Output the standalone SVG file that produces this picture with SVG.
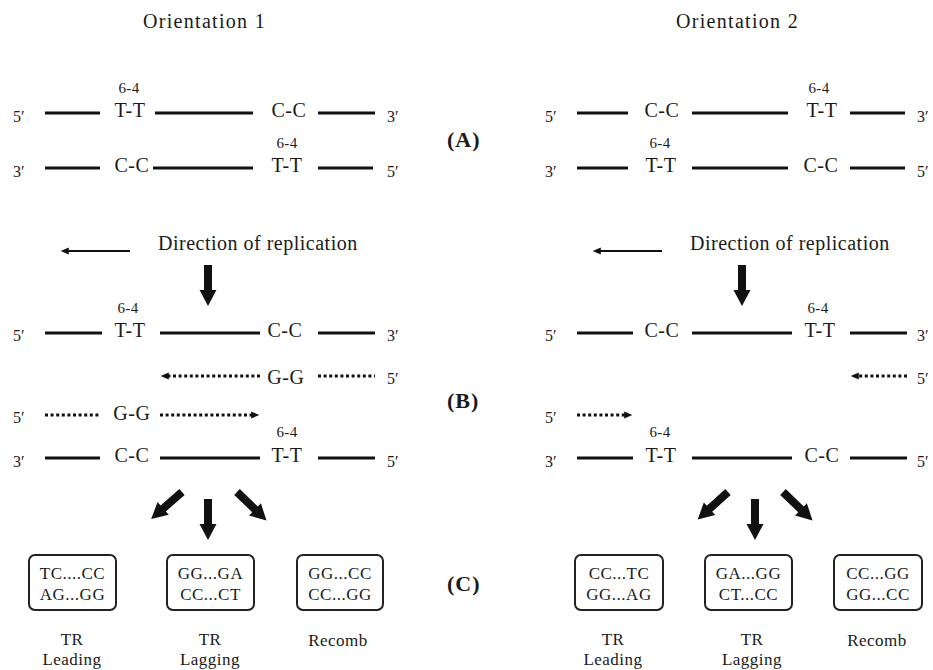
<svg xmlns="http://www.w3.org/2000/svg" width="933" height="670" viewBox="0 0 933 670">
<style>
.t{font-family:"Liberation Serif","Times New Roman",serif;fill:#1a1a1a}
.b{font-size:20px;letter-spacing:0.6px;text-anchor:middle}
.l{font-size:15px;letter-spacing:0.4px;text-anchor:middle}
.p{font-size:16px}
.ti{font-size:20px;letter-spacing:1.3px}
.dr{font-size:20px;letter-spacing:0.5px}
.pn{font-size:22px;font-weight:bold;letter-spacing:1px}
.bt{font-size:17px;letter-spacing:0.5px;text-anchor:middle}
.c{font-size:17px;letter-spacing:0.5px;text-anchor:middle}
.s{stroke:#111;stroke-width:3;fill:none}
.d{stroke:#111;stroke-width:3;stroke-dasharray:3 2.6;fill:none}
.th{stroke:#111;stroke-width:2;fill:none}
.bx{fill:#fff;stroke:#222;stroke-width:2}
.ta{fill:#111}
</style>
<defs>
<marker id="ah" viewBox="0 0 10 10" refX="2" refY="5" markerWidth="10" markerHeight="9" markerUnits="userSpaceOnUse" orient="auto">
<path d="M0,1 L9,5 L0,9 Z" fill="#111"/>
</marker>
<path id="ta" d="M-4,0 H4 V25 H8.5 L0,41 L-8.5,25 H-4 Z"/>
</defs>
<rect width="933" height="670" fill="#fff"/>

<g id="titles" class="t">
<text class="ti" x="143" y="28">Orientation 1</text>
<text class="ti" x="676" y="28">Orientation 2</text>
</g>

<g id="panel-labels" class="t">
<text class="pn" x="447" y="147">(A)</text>
<text class="pn" x="447" y="408">(B)</text>
<text class="pn" x="447" y="591">(C)</text>
</g>

<!-- Orientation 1, panel A -->
<g id="o1-a-top">
<path class="s" d="M45,113H100 M155,113H253 M318,113H375"/>
<g class="t"><text class="p" x="13" y="122">5′</text>
<text class="l" x="129" y="93">6-4</text>
<text class="b" x="130" y="117">T-T</text>
<text class="b" x="289" y="117">C-C</text>
<text class="p" x="387" y="122">3′</text></g>
</g>
<g id="o1-a-bottom">
<path class="s" d="M45,168H100 M153,168H253 M318,168H373"/>
<g class="t"><text class="p" x="13" y="177">3′</text>
<text class="b" x="132" y="172">C-C</text>
<text class="l" x="287" y="148">6-4</text>
<text class="b" x="287" y="172">T-T</text>
<text class="p" x="387" y="177">5′</text></g>
</g>

<!-- Orientation 2, panel A -->
<g id="o2-a-top">
<path class="s" d="M577,113H628 M692,113H788 M850,113H905"/>
<g class="t"><text class="p" x="545" y="122">5′</text>
<text class="b" x="662" y="117">C-C</text>
<text class="l" x="819" y="93">6-4</text>
<text class="b" x="822" y="117">T-T</text>
<text class="p" x="917" y="122">3′</text></g>
</g>
<g id="o2-a-bottom">
<path class="s" d="M577,168H628 M692,168H788 M850,168H905"/>
<g class="t"><text class="p" x="545" y="177">3′</text>
<text class="l" x="660" y="148">6-4</text>
<text class="b" x="661" y="172">T-T</text>
<text class="b" x="821" y="172">C-C</text>
<text class="p" x="917" y="177">5′</text></g>
</g>

<!-- Direction of replication -->
<g id="o1-direction" class="t"><text class="dr" x="158" y="250">Direction of replication</text></g>
<g id="o2-direction" class="t"><text class="dr" x="690" y="250">Direction of replication</text></g>

<!-- Orientation 1, panel B -->
<g id="o1-b-top">
<path class="s" d="M45,333H102 M160,333H260 M318,333H375"/>
<g class="t"><text class="p" x="13" y="341">5′</text>
<text class="l" x="128" y="313">6-4</text>
<text class="b" x="130" y="337">T-T</text>
<text class="b" x="285" y="337">C-C</text>
<text class="p" x="387" y="341">3′</text></g>
</g>
<g id="o1-b-nascent1">
<path class="d" d="M318,376H375"/>
<g class="t"><text class="b" x="286" y="384">G-G</text>
<text class="p" x="387" y="384">5′</text></g>
</g>
<g id="o1-b-nascent2">
<path class="d" d="M45,415H100"/>
<g class="t"><text class="p" x="13" y="423">5′</text>
<text class="b" x="132" y="420">G-G</text></g>
</g>
<g id="o1-b-bottom">
<path class="s" d="M45,458H100 M160,458H260 M318,458H375"/>
<g class="t"><text class="p" x="13" y="467">3′</text>
<text class="b" x="132" y="462">C-C</text>
<text class="l" x="287" y="437">6-4</text>
<text class="b" x="287" y="462">T-T</text>
<text class="p" x="387" y="467">5′</text></g>
</g>

<!-- Orientation 2, panel B -->
<g id="o2-b-top">
<path class="s" d="M577,333H633 M692,333H792 M850,333H907"/>
<g class="t"><text class="p" x="545" y="341">5′</text>
<text class="b" x="662" y="337">C-C</text>
<text class="l" x="818" y="313">6-4</text>
<text class="b" x="820" y="337">T-T</text>
<text class="p" x="917" y="341">3′</text></g>
</g>
<g id="o2-b-nascent1" class="t"><text class="p" x="917" y="384">5′</text></g>
<g id="o2-b-nascent2" class="t"><text class="p" x="545" y="423">5′</text></g>
<g id="o2-b-bottom">
<path class="s" d="M577,458H633 M692,458H792 M850,458H907"/>
<g class="t"><text class="p" x="545" y="467">3′</text>
<text class="l" x="660" y="437">6-4</text>
<text class="b" x="661" y="462">T-T</text>
<text class="b" x="822" y="462">C-C</text>
<text class="p" x="917" y="467">5′</text></g>
</g>

<!-- Panel C boxes -->
<g id="o1-tr-leading">
<rect class="bx" x="29" y="555" width="87" height="55" rx="6"/>
<g class="t"><text class="bt" x="72.5" y="579">TC....CC</text><text class="bt" x="72.5" y="600">AG...GG</text>
<text class="c" x="72" y="645">TR</text><text class="c" x="72" y="665">Leading</text></g>
</g>
<g id="o1-tr-lagging">
<rect class="bx" x="167" y="555" width="87" height="55" rx="6"/>
<g class="t"><text class="bt" x="210.5" y="579">GG...GA</text><text class="bt" x="210.5" y="600">CC...CT</text>
<text class="c" x="210" y="645">TR</text><text class="c" x="210" y="665">Lagging</text></g>
</g>
<g id="o1-recomb">
<rect class="bx" x="297" y="555" width="86" height="55" rx="6"/>
<g class="t"><text class="bt" x="340" y="579">GG...CC</text><text class="bt" x="340" y="600">CC...GG</text>
<text class="c" x="338" y="646">Recomb</text></g>
</g>
<g id="o2-tr-leading">
<rect class="bx" x="575" y="555" width="88" height="55" rx="6"/>
<g class="t"><text class="bt" x="619" y="579">CC...TC</text><text class="bt" x="619" y="600">GG...AG</text>
<text class="c" x="613" y="645">TR</text><text class="c" x="613" y="665">Leading</text></g>
</g>
<g id="o2-tr-lagging">
<rect class="bx" x="705" y="555" width="87" height="55" rx="6"/>
<g class="t"><text class="bt" x="748.5" y="579">GA...GG</text><text class="bt" x="748.5" y="600">CT...CC</text>
<text class="c" x="752" y="645">TR</text><text class="c" x="752" y="665">Lagging</text></g>
</g>
<g id="o2-recomb">
<rect class="bx" x="834" y="555" width="88" height="55" rx="6"/>
<g class="t"><text class="bt" x="878" y="579">CC...GG</text><text class="bt" x="878" y="600">GG...CC</text>
<text class="c" x="877" y="646">Recomb</text></g>
</g>

<!-- Connectors -->
<g id="connectors">
<path class="th" d="M130,251H67" marker-end="url(#ah)"/>
<path class="th" d="M662,251H599" marker-end="url(#ah)"/>
<path class="d" d="M260,376H167" marker-end="url(#ah)"/>
<path class="d" d="M160,415H253" marker-end="url(#ah)"/>
<path class="d" d="M907,376H857" marker-end="url(#ah)"/>
<path class="d" d="M577,415H626" marker-end="url(#ah)"/>
<use href="#ta" class="ta" transform="translate(208,265)"/>
<use href="#ta" class="ta" transform="translate(742,265)"/>
<use href="#ta" class="ta" transform="translate(182,492) rotate(48.8)"/>
<use href="#ta" class="ta" transform="translate(208,499)"/>
<use href="#ta" class="ta" transform="translate(237,492) rotate(-46)"/>
<use href="#ta" class="ta" transform="translate(728,492) rotate(47.7)"/>
<use href="#ta" class="ta" transform="translate(755,499)"/>
<use href="#ta" class="ta" transform="translate(783,492) rotate(-46)"/>
</g>
</svg>
